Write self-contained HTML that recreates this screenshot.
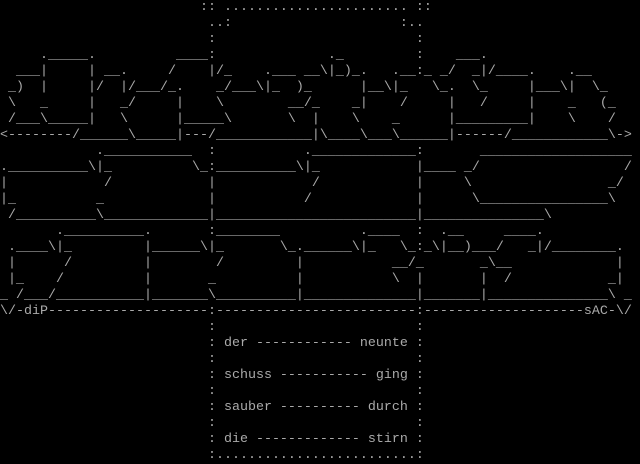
<!DOCTYPE html>
<html><head><meta charset="utf-8"><style>
html,body{margin:0;padding:0;background:#000;width:640px;height:464px;overflow:hidden}
pre{margin:0;padding:0;font-family:"Liberation Mono",monospace;font-size:13.333px;line-height:16px;color:#aaa;white-space:pre}
</style></head><body><pre>                         :: ....................... ::
                          ..:                     :..
                          :                         :
     ._____.          ____:              ._         :    ___.
  ___|     | __.     /    |/_    .___ __\|_)_.   .__:_ _/  _|/____.    .__
 _)  |     |/  |/___/_.    _/___\|_  )_      |__\|_   \_.  \_     |___\|  \_
 \   _     |   _/     |    \        __/_    _|    /     |   /     |    _   (_
 /___\_____|   \      |_____\       \  |    \    _      |_________|    \    /
&lt;--------/______\_____|---/____________|\____\___\______|------/____________\-&gt;
            .___________  :           ._____________:       ___________________
.__________\|_          \_:__________\|_            |____ _/                  /
|            /            |            /            |     \                 _/
|_          _             |           /             |      \________________\
 /__________\_____________|_________________________|_______________\
       .__________.       :________          .____  :  .__     ____.
 .____\|_         |______\|_       \_.______\|_   \_:_\|__)___/   _|/________.
 |      /         |        /         |           __/_       _\__             |
 |_    /          |       _          |           \  |       |  /            _|
_ /___/___________|_______\__________|______________|_______|_______________\ _
\/-diP--------------------:-------------------------:--------------------sAC-\/
                          :                         :
                          : der ------------ neunte :
                          :                         :
                          : schuss ----------- ging :
                          :                         :
                          : sauber ---------- durch :
                          :                         :
                          : die ------------- stirn :
                          :.........................:
</pre></body></html>
